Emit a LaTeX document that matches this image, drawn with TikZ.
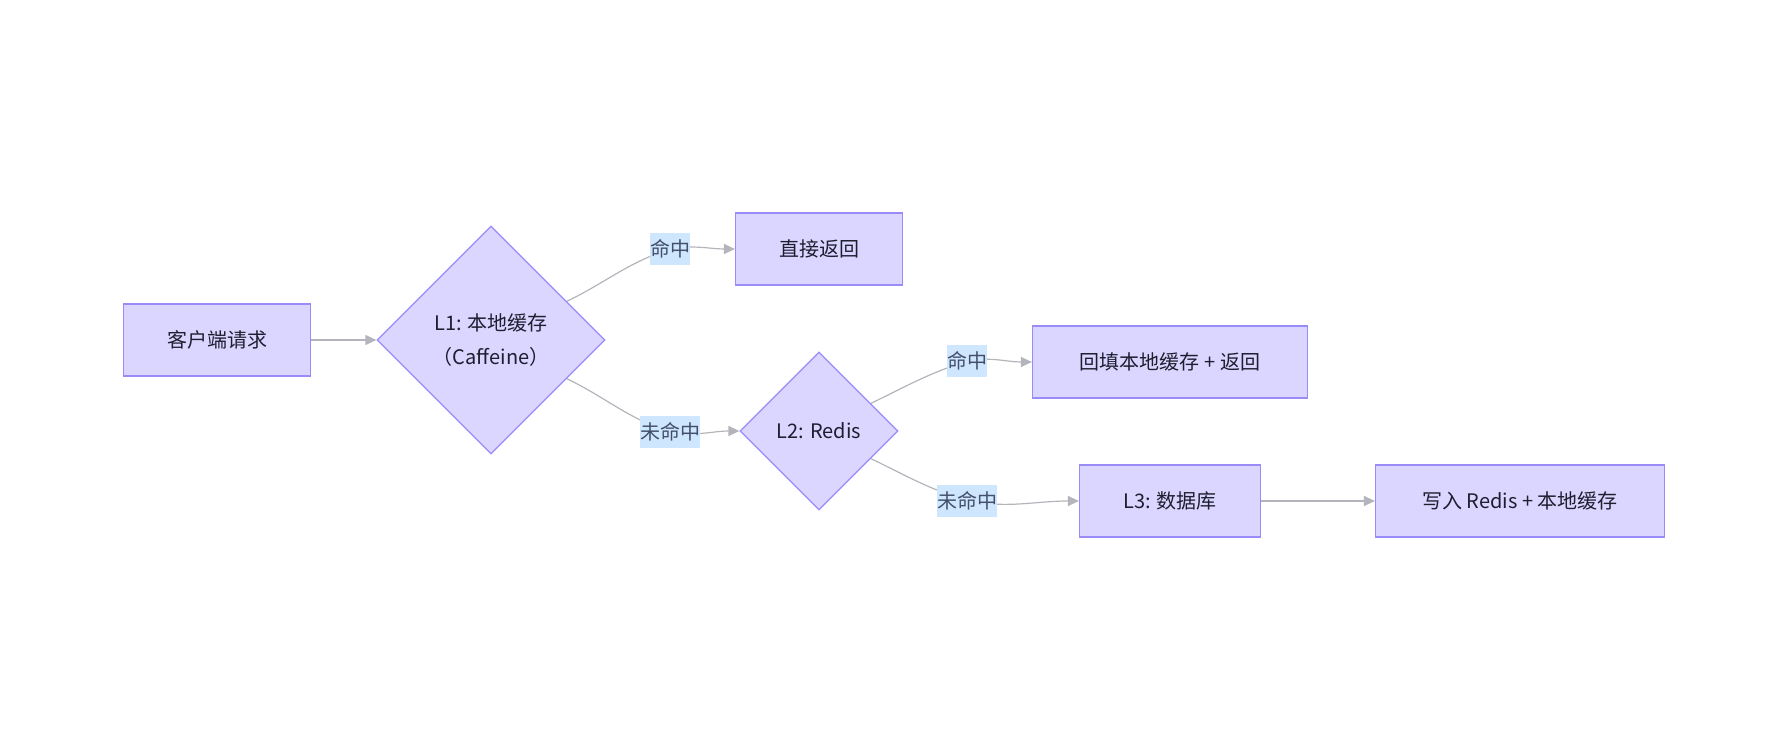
\documentclass[tikz,border=0pt]{standalone}
\usepackage{fontspec}
\setmainfont{Noto Sans CJK SC}
\usetikzlibrary{shapes.geometric,arrows.meta}
\definecolor{nodefill}{HTML}{DAD6FF}
\definecolor{nodeline}{HTML}{9A8CF8}
\definecolor{flowline}{HTML}{B4B4BC}
\definecolor{lblfill}{HTML}{CFE6FF}
\definecolor{lbltext}{HTML}{44506A}
\definecolor{nodetext}{HTML}{1E1E30}

\tikzset{
  box/.style={draw=nodeline, fill=nodefill, line width=1.2pt, text=nodetext,
    minimum height=72pt, inner sep=0pt, font=\fontsize{20pt}{34pt}\selectfont},
  choice/.style={box, diamond, aspect=1, align=center},
  flow/.style={draw=flowline, line width=1.2pt, -{Triangle[length=11pt,width=10pt]}},
  lbl/.style={fill=lblfill, text=lbltext, inner sep=0pt, minimum height=32pt,
    font=\fontsize{20pt}{24pt}\selectfont}
}

\begin{document}
\begin{tikzpicture}[x=1pt,y=-1pt]
\useasboundingbox (0,0) rectangle (1788,752);

 \node[box, minimum width=187pt] at (217,340)   (req) {客户端请求};
 \node[choice, minimum size=228pt] at (491,340)   (l1) {L1: 本地缓存\\（Caffeine）};
 \node[box, minimum width=167pt] at (819,249)   (ret) {直接返回};
 \node[choice, minimum size=158pt] at (819,431)   (l2) {L2: Redis};
 \node[box, minimum width=275pt] at (1170,362)   (fill) {回填本地缓存 + 返回};
 \node[box, minimum width=181pt] at (1170,501)   (db) {L3: 数据库};
 \node[box, minimum width=289pt] at (1520,501)   (put) {写入 Redis + 本地缓存};

 \coordinate (h1) at (670,249);
 \coordinate (m1) at (670,432);
 \coordinate (h2) at (967,361);
 \coordinate (m2) at (967,501);

\draw[flow](req)--(l1);
\draw[flow](l1.27) to[out=26,in=198] (h1) node[lbl]{命中} to[out=10,in=180] (ret.west);
\draw[flow](l1.-27) to[out=-26,in=162] (m1) node[lbl]{未命中} to[out=-10,in=180] (l2.west);
\draw[flow](l2.28) to[out=26,in=198] (h2) node[lbl]{命中} to[out=10,in=180] (fill.west);
\draw[flow](l2.-28) to[out=-26,in=162] (m2) node[lbl]{未命中} to[out=-10,in=180] (db.west);
\draw[flow](db)--(put);
 \end{tikzpicture}
\end{document}
